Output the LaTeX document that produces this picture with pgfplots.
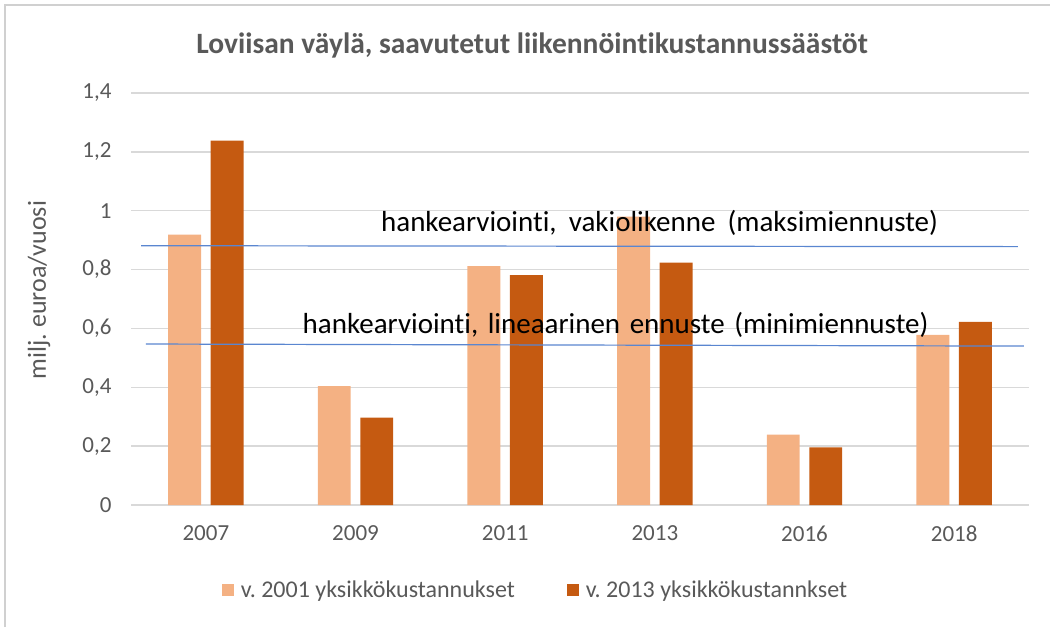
\documentclass[border=0pt]{standalone}
\usepackage{fontspec}
\setmainfont{Carlito}[Ligatures={NoCommon}]
\usepackage{pgfplots}
\pgfplotsset{compat=1.18}
\definecolor{lightor}{HTML}{F4B183}
\definecolor{darkor}{HTML}{C55A11}
\definecolor{textgray}{HTML}{595959}
\definecolor{gridgray}{HTML}{D9D9D9}
\definecolor{blueline}{HTML}{5A86D0}
\definecolor{bordergray}{HTML}{D0D0D0}
\frenchspacing
\begin{document}
\begin{tikzpicture}
\useasboundingbox (0pt,0pt) rectangle (1050pt,627pt);
\draw[bordergray, line width=2.5pt] (5pt,0pt) -- (5pt,622pt) -- (1050pt,622pt);
\begin{axis}[
  at={(131pt,122pt)}, anchor=south west,
  scale only axis, width=898pt, height=412pt,
  xmin=-0.5, xmax=5.5, ymin=0, ymax=1.4,
  xtick={0,1,2,3,4,5},
  xticklabels={2007,2009,2011,2013,2016,2018},
  ytick={0,0.2,0.4,0.6,0.8,1,1.2,1.4},
  yticklabels={0,{0,2},{0,4},{0,6},{0,8},1,{1,2},{1,4}},
  /pgf/number format/assume math mode=true,
  ymajorgrids, grid style={draw=gridgray, line width=1.3pt},
  axis line style={draw=none}, major tick length=0pt,
  tick label style={font=\fontsize{23pt}{27pt}\selectfont, text=textgray},
  yticklabel style={anchor=east, xshift=-16pt},
  xticklabel style={yshift=-17pt},
  legend style={at={(0.4505,-0.206)}, anchor=center, draw=none, fill=none,
    legend columns=2, font=\fontsize{24pt}{28pt}\selectfont, text=textgray,
    /tikz/every even column/.append style={column sep=50pt},
    legend cell align=left},
  legend image code/.code={\fill[#1] (-3pt,-6pt) rectangle (9pt,6pt); \path (14pt,0pt);},
]
\addplot[ybar, bar width=0.22, bar shift=-0.142, fill=lightor, draw=none]
  coordinates {(0,0.919) (1,0.404) (2,0.812) (3,0.980) (4,0.239) (5,0.578)};
\addplot[ybar, bar width=0.22, bar shift=0.142, fill=darkor, draw=none]
  coordinates {(0,1.238) (1,0.297) (2,0.781) (3,0.824) (4,0.196) (5,0.622)};
\addplot[blueline, line width=1.2pt, forget plot] coordinates {(-0.433,0.881) (5.425,0.878)};
\addplot[blueline, line width=1.2pt, forget plot] coordinates {(-0.400,0.547) (5.465,0.540)};
\legend{v. 2001 yksikkökustannukset, v. 2013 yksikkökustannkset}
\node[anchor=base west, inner sep=0pt, font=\fontsize{29pt}{33pt}\selectfont, text=black]
  at (axis cs:1.170,0.931) {\spaceskip=0.42em\relax hankearviointi, vakiolikenne (maksimiennuste)};
\node[anchor=base west, inner sep=0pt, font=\fontsize{29pt}{33pt}\selectfont, text=black]
  at (axis cs:0.646,0.583) {\spaceskip=0.33em\relax hankearviointi, lineaarinen ennuste (minimiennuste)};
\end{axis}
\node[font=\bfseries\fontsize{29.5pt}{33pt}\selectfont, text=textgray] at (532pt,582pt)
  {Loviisan väylä, saavutetut liikennöintikustannussäästöt};
\node[rotate=90, font=\fontsize{26pt}{30pt}\selectfont, text=textgray] at (39pt,337pt)
  {milj. euroa/vuosi};
\end{tikzpicture}
\end{document}
